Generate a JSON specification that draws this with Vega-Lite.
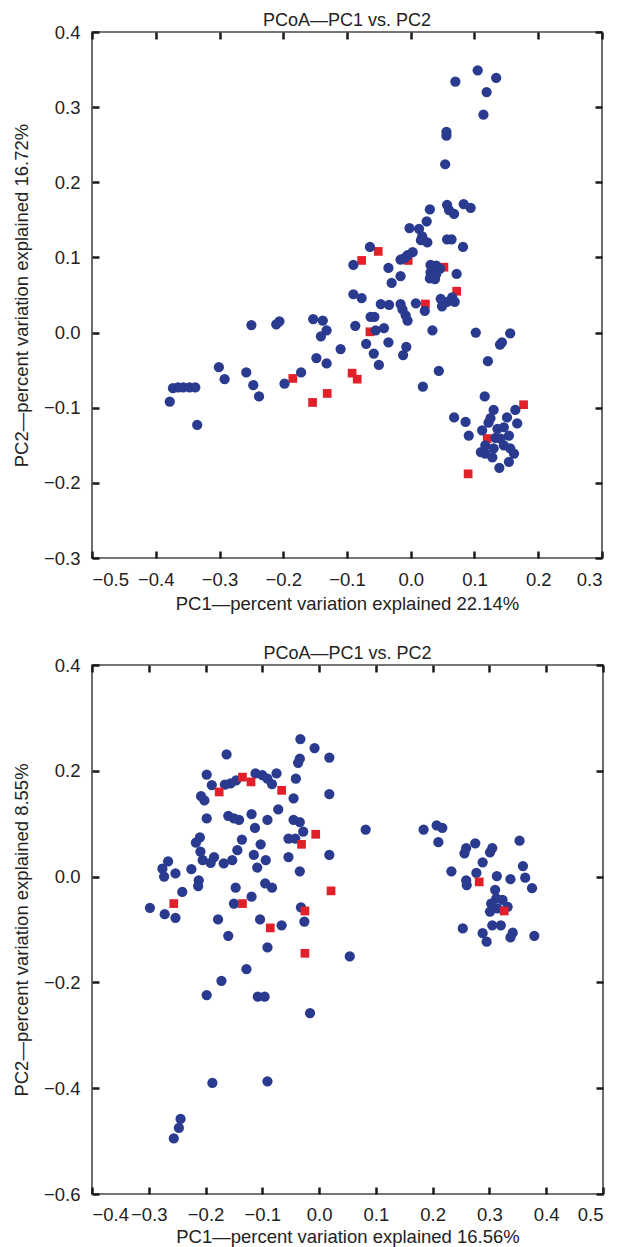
{
  "$schema": "https://vega.github.io/schema/vega-lite/v6.json",
  "padding": {"left": 11, "top": 11, "right": 0, "bottom": 0},
  "background": "white",
  "spacing": 30,
  "config": {
    "view": {"stroke": "#4a4a4a", "strokeWidth": 1.6, "fill": null},
    "font": "Liberation Sans",
    "axis": {
      "domain": false, "grid": false, "ticks": true, "zindex": 2,
      "tickColor": "#1a1a1a", "tickWidth": 2.5, "tickSize": 7, "offset": -7, "tickOpacity": 1,
      "labelFont": "Liberation Sans", "labelFontSize": 18.5, "labelColor": "#222222",
      "labelPadding": 11,
      "titleFont": "Liberation Sans", "titleFontSize": 18.5, "titleFontWeight": "normal", "titleColor": "#222222"
    },
    "title": {"font": "Liberation Sans", "fontSize": 18, "fontWeight": "normal", "color": "#222222", "offset": -7}
  },
  "datasets": {
    "top": [
      {"pc1": -0.051, "pc2": 0.108, "group": "B"},
      {"pc1": -0.077, "pc2": 0.096, "group": "B"},
      {"pc1": -0.004, "pc2": 0.096, "group": "B"},
      {"pc1": 0.052, "pc2": 0.087, "group": "B"},
      {"pc1": 0.072, "pc2": 0.055, "group": "B"},
      {"pc1": 0.023, "pc2": 0.038, "group": "B"},
      {"pc1": -0.064, "pc2": 0.001, "group": "B"},
      {"pc1": -0.185, "pc2": -0.061, "group": "B"},
      {"pc1": -0.092, "pc2": -0.054, "group": "B"},
      {"pc1": -0.084, "pc2": -0.062, "group": "B"},
      {"pc1": -0.154, "pc2": -0.093, "group": "B"},
      {"pc1": -0.131, "pc2": -0.081, "group": "B"},
      {"pc1": 0.090, "pc2": -0.188, "group": "B"},
      {"pc1": 0.177, "pc2": -0.096, "group": "B"},
      {"pc1": 0.120, "pc2": -0.141, "group": "B"},
      {"pc1": 0.105, "pc2": 0.349, "group": "A"},
      {"pc1": 0.134, "pc2": 0.339, "group": "A"},
      {"pc1": 0.070, "pc2": 0.334, "group": "A"},
      {"pc1": 0.119, "pc2": 0.320, "group": "A"},
      {"pc1": 0.114, "pc2": 0.290, "group": "A"},
      {"pc1": 0.056, "pc2": 0.267, "group": "A"},
      {"pc1": 0.056, "pc2": 0.262, "group": "A"},
      {"pc1": 0.054, "pc2": 0.224, "group": "A"},
      {"pc1": 0.030, "pc2": 0.164, "group": "A"},
      {"pc1": 0.057, "pc2": 0.170, "group": "A"},
      {"pc1": 0.060, "pc2": 0.163, "group": "A"},
      {"pc1": 0.068, "pc2": 0.158, "group": "A"},
      {"pc1": 0.083, "pc2": 0.171, "group": "A"},
      {"pc1": 0.094, "pc2": 0.166, "group": "A"},
      {"pc1": 0.025, "pc2": 0.148, "group": "A"},
      {"pc1": -0.002, "pc2": 0.139, "group": "A"},
      {"pc1": 0.013, "pc2": 0.138, "group": "A"},
      {"pc1": 0.018, "pc2": 0.128, "group": "A"},
      {"pc1": 0.026, "pc2": 0.120, "group": "A"},
      {"pc1": 0.016, "pc2": 0.123, "group": "A"},
      {"pc1": 0.057, "pc2": 0.124, "group": "A"},
      {"pc1": 0.064, "pc2": 0.124, "group": "A"},
      {"pc1": 0.082, "pc2": 0.114, "group": "A"},
      {"pc1": -0.064, "pc2": 0.114, "group": "A"},
      {"pc1": -0.090, "pc2": 0.090, "group": "A"},
      {"pc1": 0.003, "pc2": 0.107, "group": "A"},
      {"pc1": -0.005, "pc2": 0.103, "group": "A"},
      {"pc1": -0.010, "pc2": 0.099, "group": "A"},
      {"pc1": -0.016, "pc2": 0.097, "group": "A"},
      {"pc1": -0.035, "pc2": 0.086, "group": "A"},
      {"pc1": -0.016, "pc2": 0.075, "group": "A"},
      {"pc1": -0.030, "pc2": 0.066, "group": "A"},
      {"pc1": 0.031, "pc2": 0.090, "group": "A"},
      {"pc1": 0.040, "pc2": 0.089, "group": "A"},
      {"pc1": 0.046, "pc2": 0.085, "group": "A"},
      {"pc1": 0.031, "pc2": 0.080, "group": "A"},
      {"pc1": 0.040, "pc2": 0.078, "group": "A"},
      {"pc1": 0.030, "pc2": 0.072, "group": "A"},
      {"pc1": 0.038, "pc2": 0.071, "group": "A"},
      {"pc1": 0.072, "pc2": 0.078, "group": "A"},
      {"pc1": -0.090, "pc2": 0.051, "group": "A"},
      {"pc1": -0.077, "pc2": 0.046, "group": "A"},
      {"pc1": -0.047, "pc2": 0.038, "group": "A"},
      {"pc1": -0.034, "pc2": 0.037, "group": "A"},
      {"pc1": -0.016, "pc2": 0.038, "group": "A"},
      {"pc1": -0.013, "pc2": 0.031, "group": "A"},
      {"pc1": -0.008, "pc2": 0.023, "group": "A"},
      {"pc1": -0.005, "pc2": 0.016, "group": "A"},
      {"pc1": 0.008, "pc2": 0.039, "group": "A"},
      {"pc1": 0.022, "pc2": 0.029, "group": "A"},
      {"pc1": 0.047, "pc2": 0.045, "group": "A"},
      {"pc1": 0.049, "pc2": 0.035, "group": "A"},
      {"pc1": 0.057, "pc2": 0.041, "group": "A"},
      {"pc1": 0.065, "pc2": 0.047, "group": "A"},
      {"pc1": 0.069, "pc2": 0.041, "group": "A"},
      {"pc1": -0.063, "pc2": 0.021, "group": "A"},
      {"pc1": -0.057, "pc2": 0.021, "group": "A"},
      {"pc1": -0.087, "pc2": 0.009, "group": "A"},
      {"pc1": -0.055, "pc2": 0.003, "group": "A"},
      {"pc1": -0.042, "pc2": 0.006, "group": "A"},
      {"pc1": 0.034, "pc2": 0.003, "group": "A"},
      {"pc1": 0.102, "pc2": 0.000, "group": "A"},
      {"pc1": 0.156, "pc2": -0.001, "group": "A"},
      {"pc1": 0.143, "pc2": -0.013, "group": "A"},
      {"pc1": 0.140, "pc2": -0.016, "group": "A"},
      {"pc1": -0.110, "pc2": -0.022, "group": "A"},
      {"pc1": -0.070, "pc2": -0.015, "group": "A"},
      {"pc1": -0.035, "pc2": -0.013, "group": "A"},
      {"pc1": -0.007, "pc2": -0.019, "group": "A"},
      {"pc1": -0.012, "pc2": -0.030, "group": "A"},
      {"pc1": -0.058, "pc2": -0.028, "group": "A"},
      {"pc1": -0.050, "pc2": -0.043, "group": "A"},
      {"pc1": -0.148, "pc2": -0.034, "group": "A"},
      {"pc1": -0.132, "pc2": -0.041, "group": "A"},
      {"pc1": 0.121, "pc2": -0.038, "group": "A"},
      {"pc1": 0.044, "pc2": -0.051, "group": "A"},
      {"pc1": 0.019, "pc2": -0.072, "group": "A"},
      {"pc1": 0.116, "pc2": -0.085, "group": "A"},
      {"pc1": -0.250, "pc2": 0.010, "group": "A"},
      {"pc1": -0.211, "pc2": 0.011, "group": "A"},
      {"pc1": -0.206, "pc2": 0.015, "group": "A"},
      {"pc1": -0.153, "pc2": 0.018, "group": "A"},
      {"pc1": -0.138, "pc2": 0.016, "group": "A"},
      {"pc1": -0.132, "pc2": 0.003, "group": "A"},
      {"pc1": -0.141, "pc2": -0.005, "group": "A"},
      {"pc1": -0.172, "pc2": -0.053, "group": "A"},
      {"pc1": -0.198, "pc2": -0.068, "group": "A"},
      {"pc1": -0.301, "pc2": -0.046, "group": "A"},
      {"pc1": -0.292, "pc2": -0.062, "group": "A"},
      {"pc1": -0.258, "pc2": -0.053, "group": "A"},
      {"pc1": -0.247, "pc2": -0.070, "group": "A"},
      {"pc1": -0.238, "pc2": -0.085, "group": "A"},
      {"pc1": -0.378, "pc2": -0.092, "group": "A"},
      {"pc1": -0.373, "pc2": -0.074, "group": "A"},
      {"pc1": -0.365, "pc2": -0.073, "group": "A"},
      {"pc1": -0.357, "pc2": -0.073, "group": "A"},
      {"pc1": -0.347, "pc2": -0.073, "group": "A"},
      {"pc1": -0.338, "pc2": -0.073, "group": "A"},
      {"pc1": -0.335, "pc2": -0.123, "group": "A"},
      {"pc1": 0.068, "pc2": -0.113, "group": "A"},
      {"pc1": 0.086, "pc2": -0.119, "group": "A"},
      {"pc1": 0.091, "pc2": -0.137, "group": "A"},
      {"pc1": 0.130, "pc2": -0.103, "group": "A"},
      {"pc1": 0.125, "pc2": -0.114, "group": "A"},
      {"pc1": 0.112, "pc2": -0.130, "group": "A"},
      {"pc1": 0.164, "pc2": -0.103, "group": "A"},
      {"pc1": 0.151, "pc2": -0.113, "group": "A"},
      {"pc1": 0.167, "pc2": -0.121, "group": "A"},
      {"pc1": 0.117, "pc2": -0.150, "group": "A"},
      {"pc1": 0.117, "pc2": -0.161, "group": "A"},
      {"pc1": 0.128, "pc2": -0.166, "group": "A"},
      {"pc1": 0.141, "pc2": -0.141, "group": "A"},
      {"pc1": 0.146, "pc2": -0.150, "group": "A"},
      {"pc1": 0.154, "pc2": -0.137, "group": "A"},
      {"pc1": 0.156, "pc2": -0.154, "group": "A"},
      {"pc1": 0.162, "pc2": -0.161, "group": "A"},
      {"pc1": 0.154, "pc2": -0.172, "group": "A"},
      {"pc1": 0.139, "pc2": -0.180, "group": "A"},
      {"pc1": 0.136, "pc2": -0.128, "group": "A"},
      {"pc1": 0.146, "pc2": -0.126, "group": "A"},
      {"pc1": 0.130, "pc2": -0.154, "group": "A"},
      {"pc1": 0.110, "pc2": -0.159, "group": "A"},
      {"pc1": 0.122, "pc2": -0.120, "group": "A"},
      {"pc1": 0.133, "pc2": -0.140, "group": "A"}
    ],
    "bottom": [
      {"pc1": -0.033, "pc2": 0.260, "group": "A"},
      {"pc1": -0.008, "pc2": 0.243, "group": "A"},
      {"pc1": 0.018, "pc2": 0.225, "group": "A"},
      {"pc1": -0.163, "pc2": 0.231, "group": "A"},
      {"pc1": -0.034, "pc2": 0.223, "group": "A"},
      {"pc1": -0.037, "pc2": 0.215, "group": "A"},
      {"pc1": -0.198, "pc2": 0.193, "group": "A"},
      {"pc1": -0.189, "pc2": 0.173, "group": "A"},
      {"pc1": -0.166, "pc2": 0.174, "group": "A"},
      {"pc1": -0.156, "pc2": 0.176, "group": "A"},
      {"pc1": -0.146, "pc2": 0.182, "group": "A"},
      {"pc1": -0.112, "pc2": 0.195, "group": "A"},
      {"pc1": -0.100, "pc2": 0.192, "group": "A"},
      {"pc1": -0.091, "pc2": 0.185, "group": "A"},
      {"pc1": -0.083, "pc2": 0.175, "group": "A"},
      {"pc1": -0.075, "pc2": 0.195, "group": "A"},
      {"pc1": -0.041, "pc2": 0.185, "group": "A"},
      {"pc1": -0.045, "pc2": 0.148, "group": "A"},
      {"pc1": 0.018, "pc2": 0.156, "group": "A"},
      {"pc1": -0.208, "pc2": 0.152, "group": "A"},
      {"pc1": -0.202, "pc2": 0.144, "group": "A"},
      {"pc1": -0.198, "pc2": 0.110, "group": "A"},
      {"pc1": -0.160, "pc2": 0.115, "group": "A"},
      {"pc1": -0.150, "pc2": 0.110, "group": "A"},
      {"pc1": -0.141, "pc2": 0.107, "group": "A"},
      {"pc1": -0.119, "pc2": 0.118, "group": "A"},
      {"pc1": -0.113, "pc2": 0.092, "group": "A"},
      {"pc1": -0.091, "pc2": 0.107, "group": "A"},
      {"pc1": -0.072, "pc2": 0.127, "group": "A"},
      {"pc1": -0.045, "pc2": 0.107, "group": "A"},
      {"pc1": -0.034, "pc2": 0.103, "group": "A"},
      {"pc1": -0.028, "pc2": 0.085, "group": "A"},
      {"pc1": -0.054, "pc2": 0.072, "group": "A"},
      {"pc1": -0.042, "pc2": 0.072, "group": "A"},
      {"pc1": -0.210, "pc2": 0.074, "group": "A"},
      {"pc1": -0.217, "pc2": 0.064, "group": "A"},
      {"pc1": -0.209, "pc2": 0.047, "group": "A"},
      {"pc1": -0.205, "pc2": 0.031, "group": "A"},
      {"pc1": -0.185, "pc2": 0.037, "group": "A"},
      {"pc1": -0.191, "pc2": 0.026, "group": "A"},
      {"pc1": -0.168, "pc2": 0.025, "group": "A"},
      {"pc1": -0.153, "pc2": 0.031, "group": "A"},
      {"pc1": -0.144, "pc2": 0.050, "group": "A"},
      {"pc1": -0.136, "pc2": 0.070, "group": "A"},
      {"pc1": -0.115, "pc2": 0.041, "group": "A"},
      {"pc1": -0.103, "pc2": 0.061, "group": "A"},
      {"pc1": -0.109, "pc2": 0.017, "group": "A"},
      {"pc1": -0.094, "pc2": 0.031, "group": "A"},
      {"pc1": -0.054, "pc2": 0.037, "group": "A"},
      {"pc1": 0.018, "pc2": 0.041, "group": "A"},
      {"pc1": -0.034, "pc2": 0.010, "group": "A"},
      {"pc1": -0.266, "pc2": 0.029, "group": "A"},
      {"pc1": -0.276, "pc2": 0.015, "group": "A"},
      {"pc1": -0.273, "pc2": 0.000, "group": "A"},
      {"pc1": -0.253, "pc2": 0.006, "group": "A"},
      {"pc1": -0.225, "pc2": 0.014, "group": "A"},
      {"pc1": -0.212, "pc2": -0.007, "group": "A"},
      {"pc1": -0.213, "pc2": -0.018, "group": "A"},
      {"pc1": -0.241, "pc2": -0.029, "group": "A"},
      {"pc1": -0.298, "pc2": -0.059, "group": "A"},
      {"pc1": -0.147, "pc2": -0.021, "group": "A"},
      {"pc1": -0.150, "pc2": -0.051, "group": "A"},
      {"pc1": -0.119, "pc2": -0.038, "group": "A"},
      {"pc1": -0.095, "pc2": -0.013, "group": "A"},
      {"pc1": -0.083, "pc2": -0.021, "group": "A"},
      {"pc1": -0.032, "pc2": -0.058, "group": "A"},
      {"pc1": -0.272, "pc2": -0.071, "group": "A"},
      {"pc1": -0.253, "pc2": -0.078, "group": "A"},
      {"pc1": -0.178, "pc2": -0.081, "group": "A"},
      {"pc1": -0.104, "pc2": -0.081, "group": "A"},
      {"pc1": -0.066, "pc2": -0.092, "group": "A"},
      {"pc1": -0.026, "pc2": -0.085, "group": "A"},
      {"pc1": -0.160, "pc2": -0.112, "group": "A"},
      {"pc1": -0.091, "pc2": -0.134, "group": "A"},
      {"pc1": -0.128, "pc2": -0.175, "group": "A"},
      {"pc1": -0.172, "pc2": -0.197, "group": "A"},
      {"pc1": -0.198, "pc2": -0.224, "group": "A"},
      {"pc1": -0.108, "pc2": -0.227, "group": "A"},
      {"pc1": -0.096, "pc2": -0.227, "group": "A"},
      {"pc1": -0.016, "pc2": -0.258, "group": "A"},
      {"pc1": 0.054, "pc2": -0.151, "group": "A"},
      {"pc1": 0.082, "pc2": 0.089, "group": "A"},
      {"pc1": -0.188, "pc2": -0.390, "group": "A"},
      {"pc1": -0.091, "pc2": -0.387, "group": "A"},
      {"pc1": -0.244, "pc2": -0.458, "group": "A"},
      {"pc1": -0.247, "pc2": -0.475, "group": "A"},
      {"pc1": -0.256, "pc2": -0.495, "group": "A"},
      {"pc1": 0.184, "pc2": 0.089, "group": "A"},
      {"pc1": 0.207, "pc2": 0.097, "group": "A"},
      {"pc1": 0.217, "pc2": 0.092, "group": "A"},
      {"pc1": 0.210, "pc2": 0.065, "group": "A"},
      {"pc1": 0.353, "pc2": 0.068, "group": "A"},
      {"pc1": 0.259, "pc2": 0.054, "group": "A"},
      {"pc1": 0.256, "pc2": 0.044, "group": "A"},
      {"pc1": 0.275, "pc2": 0.063, "group": "A"},
      {"pc1": 0.305, "pc2": 0.054, "group": "A"},
      {"pc1": 0.301, "pc2": 0.046, "group": "A"},
      {"pc1": 0.288, "pc2": 0.027, "group": "A"},
      {"pc1": 0.359, "pc2": 0.020, "group": "A"},
      {"pc1": 0.233, "pc2": 0.010, "group": "A"},
      {"pc1": 0.277, "pc2": 0.007, "group": "A"},
      {"pc1": 0.259, "pc2": -0.007, "group": "A"},
      {"pc1": 0.260, "pc2": -0.016, "group": "A"},
      {"pc1": 0.313, "pc2": 0.001, "group": "A"},
      {"pc1": 0.337, "pc2": -0.005, "group": "A"},
      {"pc1": 0.363, "pc2": -0.002, "group": "A"},
      {"pc1": 0.375, "pc2": -0.022, "group": "A"},
      {"pc1": 0.310, "pc2": -0.025, "group": "A"},
      {"pc1": 0.312, "pc2": -0.041, "group": "A"},
      {"pc1": 0.303, "pc2": -0.051, "group": "A"},
      {"pc1": 0.323, "pc2": -0.044, "group": "A"},
      {"pc1": 0.301, "pc2": -0.066, "group": "A"},
      {"pc1": 0.314, "pc2": -0.060, "group": "A"},
      {"pc1": 0.332, "pc2": -0.057, "group": "A"},
      {"pc1": 0.305, "pc2": -0.092, "group": "A"},
      {"pc1": 0.320, "pc2": -0.092, "group": "A"},
      {"pc1": 0.253, "pc2": -0.098, "group": "A"},
      {"pc1": 0.288, "pc2": -0.107, "group": "A"},
      {"pc1": 0.295, "pc2": -0.123, "group": "A"},
      {"pc1": 0.341, "pc2": -0.106, "group": "A"},
      {"pc1": 0.337, "pc2": -0.115, "group": "A"},
      {"pc1": 0.379, "pc2": -0.112, "group": "A"},
      {"pc1": -0.176, "pc2": 0.160, "group": "B"},
      {"pc1": -0.135, "pc2": 0.188, "group": "B"},
      {"pc1": -0.120, "pc2": 0.179, "group": "B"},
      {"pc1": -0.066, "pc2": 0.163, "group": "B"},
      {"pc1": -0.006, "pc2": 0.080, "group": "B"},
      {"pc1": -0.031, "pc2": 0.061, "group": "B"},
      {"pc1": -0.256, "pc2": -0.051, "group": "B"},
      {"pc1": -0.135, "pc2": -0.051, "group": "B"},
      {"pc1": 0.021, "pc2": -0.027, "group": "B"},
      {"pc1": -0.086, "pc2": -0.097, "group": "B"},
      {"pc1": -0.025, "pc2": -0.065, "group": "B"},
      {"pc1": -0.025, "pc2": -0.145, "group": "B"},
      {"pc1": 0.282, "pc2": -0.010, "group": "B"},
      {"pc1": 0.326, "pc2": -0.065, "group": "B"}
    ]
  },
  "vconcat": [
    {
      "width": 510,
      "height": 526,
      "title": {"text": "PCoA—PC1 vs. PC2"},
      "resolve": {"axis": {"x": "independent", "y": "independent"}},
      "layer": [
        {
          "mark": {"type": "rule", "color": "#8a8a8a", "strokeWidth": 1.5},
          "encoding": {
            "x": {"datum": 0, "type": "quantitative", "scale": {"domain": [-0.5, 0.3], "nice": false, "zero": false},
                  "axis": {"orient": "top", "labels": false, "title": null, "values": [-0.5, -0.4, -0.3, -0.2, -0.1, 0, 0.1, 0.2, 0.3]}}
          }
        },
        {
          "mark": {"type": "rule", "color": "#8a8a8a", "strokeWidth": 1.5},
          "encoding": {
            "y": {"datum": 0, "type": "quantitative", "scale": {"domain": [-0.3, 0.4], "nice": false, "zero": false},
                  "axis": {"orient": "right", "labels": false, "title": null, "values": [-0.3, -0.2, -0.1, 0, 0.1, 0.2, 0.3, 0.4]}}
          }
        },
        {
          "data": {"name": "top"},
          "mark": {"type": "point", "filled": true, "opacity": 1, "strokeWidth": 0},
          "encoding": {
            "x": {"field": "pc1", "type": "quantitative", "scale": {"domain": [-0.5, 0.3], "nice": false, "zero": false},
                  "axis": {"orient": "bottom", "title": "PC1—percent variation explained 22.14%", "format": ".1f", "titlePadding": 6, "labelPadding": 12,
                           "values": [-0.5, -0.4, -0.3, -0.2, -0.1, 0, 0.1, 0.2, 0.3]}},
            "y": {"field": "pc2", "type": "quantitative", "scale": {"domain": [-0.3, 0.4], "nice": false, "zero": false},
                  "axis": {"orient": "left", "title": "PC2—percent variation explained 16.72%", "format": ".1f", "titlePadding": 12, "labelPadding": 12,
                           "values": [-0.3, -0.2, -0.1, 0, 0.1, 0.2, 0.3, 0.4]}},
            "shape": {"field": "group", "type": "nominal", "scale": {"domain": ["A", "B"], "range": ["circle", "square"]}, "legend": null},
            "color": {"field": "group", "type": "nominal", "scale": {"domain": ["A", "B"], "range": ["#2a3b8f", "#e2202a"]}, "legend": null},
            "size": {"field": "group", "type": "nominal", "scale": {"domain": ["A", "B"], "range": [105, 76]}, "legend": null}
          }
        }
      ]
    },
    {
      "width": 511,
      "height": 529,
      "title": {"text": "PCoA—PC1 vs. PC2"},
      "resolve": {"axis": {"x": "independent", "y": "independent"}},
      "layer": [
        {
          "mark": {"type": "rule", "color": "#8a8a8a", "strokeWidth": 1.5},
          "encoding": {
            "x": {"datum": 0, "type": "quantitative", "scale": {"domain": [-0.4, 0.5], "nice": false, "zero": false},
                  "axis": {"orient": "top", "labels": false, "title": null, "values": [-0.4, -0.3, -0.2, -0.1, 0, 0.1, 0.2, 0.3, 0.4, 0.5]}}
          }
        },
        {
          "mark": {"type": "rule", "color": "#8a8a8a", "strokeWidth": 1.5},
          "encoding": {
            "y": {"datum": 0, "type": "quantitative", "scale": {"domain": [-0.6, 0.4], "nice": false, "zero": false},
                  "axis": {"orient": "right", "labels": false, "title": null, "values": [-0.6, -0.4, -0.2, 0, 0.2, 0.4]}}
          }
        },
        {
          "data": {"name": "bottom"},
          "mark": {"type": "point", "filled": true, "opacity": 1, "strokeWidth": 0},
          "encoding": {
            "x": {"field": "pc1", "type": "quantitative", "scale": {"domain": [-0.4, 0.5], "nice": false, "zero": false},
                  "axis": {"orient": "bottom", "title": "PC1—percent variation explained 16.56%", "format": ".1f", "titlePadding": 4, "labelPadding": 11,
                           "values": [-0.4, -0.3, -0.2, -0.1, 0, 0.1, 0.2, 0.3, 0.4, 0.5]}},
            "y": {"field": "pc2", "type": "quantitative", "scale": {"domain": [-0.6, 0.4], "nice": false, "zero": false},
                  "axis": {"orient": "left", "title": "PC2—percent variation explained 8.55%", "format": ".1f", "titlePadding": 12, "labelPadding": 12,
                           "values": [-0.6, -0.4, -0.2, 0, 0.2, 0.4]}},
            "shape": {"field": "group", "type": "nominal", "scale": {"domain": ["A", "B"], "range": ["circle", "square"]}, "legend": null},
            "color": {"field": "group", "type": "nominal", "scale": {"domain": ["A", "B"], "range": ["#2a3b8f", "#e2202a"]}, "legend": null},
            "size": {"field": "group", "type": "nominal", "scale": {"domain": ["A", "B"], "range": [105, 76]}, "legend": null}
          }
        }
      ]
    }
  ]
}
